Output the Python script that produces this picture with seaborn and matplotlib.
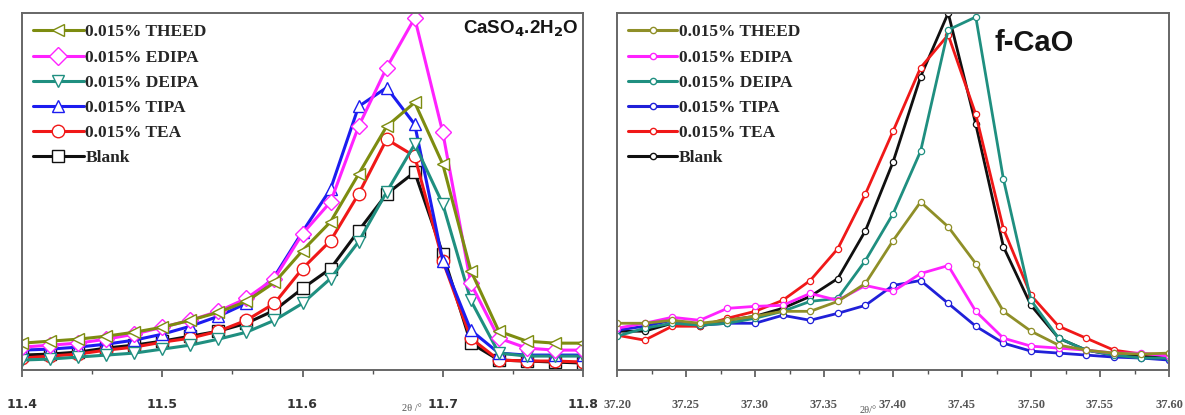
import numpy as np
import pandas as pd
import matplotlib
matplotlib.use("Agg")
import matplotlib.pyplot as plt
import seaborn as sns
from matplotlib.ticker import MultipleLocator

# ---------------- data ----------------
series_names = ["0.015% THEED", "0.015% EDIPA", "0.015% DEIPA", "0.015% TIPA", "0.015% TEA", "Blank"]

# CaSO4.2H2O panel (2theta / deg), intensity in arbitrary units
x_gyp = [11.40, 11.42, 11.44, 11.46, 11.48, 11.50, 11.52, 11.54, 11.56, 11.58, 11.60,
         11.62, 11.64, 11.66, 11.68, 11.70, 11.72, 11.74, 11.76, 11.78, 11.80]
gyp_theed = [27, 29, 31, 34, 38, 43, 50, 58, 69, 88, 120, 149, 197, 245, 269, 207, 100, 39, 29, 27, 27]
gyp_edipa = [23, 25, 27, 31, 36, 43, 50, 59, 72, 92, 137, 169, 245, 304, 354, 239, 87, 32, 22, 20, 20]
gyp_deipa = [10, 11, 13, 15, 17, 21, 25, 31, 38, 50, 67, 92, 129, 179, 227, 167, 70, 17, 14, 14, 14]
gyp_tipa = [20, 21, 23, 26, 30, 36, 44, 54, 67, 94, 139, 182, 265, 284, 247, 110, 40, 17, 15, 15, 15]
gyp_tea = [12, 14, 16, 20, 23, 28, 32, 39, 50, 67, 102, 130, 177, 232, 215, 110, 32, 10, 9, 9, 8]
gyp_blank = [15, 16, 18, 22, 25, 29, 34, 39, 47, 60, 82, 102, 140, 177, 199, 117, 27, 10, 9, 8, 7]

# f-CaO panel
x_cao = [37.20, 37.22, 37.24, 37.26, 37.28, 37.30, 37.32, 37.34, 37.36, 37.38, 37.40,
         37.42, 37.44, 37.46, 37.48, 37.50, 37.52, 37.54, 37.56, 37.58, 37.60]
cao_theed = [47, 47, 50, 47, 50, 54, 59, 59, 69, 87, 130, 169, 144, 107, 59, 39, 25, 20, 17, 16, 17]
cao_edipa = [42, 47, 53, 50, 62, 64, 65, 77, 70, 85, 79, 97, 105, 59, 32, 24, 22, 20, 17, 17, 14]
cao_deipa = [34, 42, 47, 45, 47, 52, 59, 69, 72, 110, 157, 220, 342, 355, 192, 70, 32, 20, 15, 12, 12]
cao_tipa = [40, 44, 50, 45, 47, 47, 55, 50, 57, 65, 85, 90, 67, 44, 27, 19, 17, 15, 13, 12, 10]
cao_tea = [35, 30, 44, 44, 52, 59, 70, 90, 122, 177, 240, 304, 337, 257, 142, 75, 44, 32, 20, 16, 16]
cao_blank = [39, 39, 47, 44, 50, 54, 62, 74, 92, 140, 209, 295, 359, 247, 124, 65, 32, 20, 15, 14, 12]

gyp_xticks = [11.4, 11.5, 11.6, 11.7, 11.8]
gyp_xticklabels = ["11.4", "11.5", "11.6", "11.7", "11.8"]
cao_xticks = [37.20, 37.25, 37.30, 37.35, 37.40, 37.45, 37.50, 37.55, 37.60]
cao_xticklabels = ["37.20", "37.25", "37.30", "37.35", "37.40", "37.45", "37.50", "37.55", "37.60"]

# ---------------- style ----------------
colors_gyp = ["#7d8c10", "#ff22ff", "#1f8f80", "#1c1cf0", "#f01818", "#101010"]
colors_cao = ["#8f8f28", "#ff22ff", "#1f8f80", "#2020d8", "#f01818", "#101010"]
markers_gyp = ["<", "D", "v", "^", "o", "s"]

sns.set_style("white")
plt.rcParams["font.family"] = ["DejaVu Sans"]

fig = plt.figure(figsize=(11.85, 4.15), dpi=100)
axL = fig.add_axes([22 / 1185, 45 / 415, 561 / 1185, 357 / 415])
axR = fig.add_axes([617 / 1185, 45 / 415, 552 / 1185, 357 / 415])

gyp_df = pd.DataFrame({"x": x_gyp, series_names[0]: gyp_theed, series_names[1]: gyp_edipa,
                       series_names[2]: gyp_deipa, series_names[3]: gyp_tipa,
                       series_names[4]: gyp_tea, series_names[5]: gyp_blank})
cao_df = pd.DataFrame({"x": x_cao, series_names[0]: cao_theed, series_names[1]: cao_edipa,
                       series_names[2]: cao_deipa, series_names[3]: cao_tipa,
                       series_names[4]: cao_tea, series_names[5]: cao_blank})

# draw Blank first so coloured curves sit on top (legend order kept separately)
order = [5, 4, 3, 2, 1, 0]
for i in order:
    name = series_names[i]
    sns.lineplot(data=gyp_df, x="x", y=name, ax=axL, color=colors_gyp[i], lw=2.2,
                 marker=markers_gyp[i], markersize=9 if markers_gyp[i] != "D" else 8,
                 markerfacecolor="white", markeredgecolor=colors_gyp[i],
                 markeredgewidth=1.0, label=name, sort=False, legend=False)
    sns.lineplot(data=cao_df, x="x", y=name, ax=axR, color=colors_cao[i], lw=2.0,
                 marker="o", markersize=4.5, markerfacecolor="white",
                 markeredgecolor=colors_cao[i], markeredgewidth=0.9,
                 label=name, sort=False, legend=False)

legend_font = {"family": ["Liberation Serif", "DejaVu Serif"], "weight": "bold", "size": 12.5}

for ax, cols, mk, ms, xt, xtl, xlim, hl in [
        (axL, colors_gyp, markers_gyp, 9, gyp_xticks, gyp_xticklabels, (11.4, 11.8), 2.9),
        (axR, colors_cao, ["o"] * 6, 4.5, cao_xticks, cao_xticklabels, (37.2, 37.6), 2.8)]:
    ax.set_xlim(*xlim)
    ax.set_ylim(0, 359)
    ax.set_yticks([])
    ax.set_ylabel("")
    ax.set_xticks(xt)
    ax.set_xticklabels(xtl)
    for s in ax.spines.values():
        s.set_color("#666666")
        s.set_linewidth(1.4)
    handles = [plt.Line2D([], [], color=cols[i], lw=2.2, marker=mk[i], markersize=ms,
                          markerfacecolor="white", markeredgecolor=cols[i], markeredgewidth=1.0)
               for i in range(6)]
    ax.legend(handles, series_names, loc="upper left", frameon=False, prop=legend_font,
              handlelength=hl, handletextpad=0.1, labelspacing=0.52,
              borderaxespad=0.25, bbox_to_anchor=(0.0, 1.0))

axL.xaxis.set_minor_locator(MultipleLocator(0.05))
axR.xaxis.set_minor_locator(MultipleLocator(0.025))
axL.tick_params(axis="x", which="major", direction="out", length=5, width=1.2, color="#555555",
                labelsize=9, labelcolor="#333333", pad=15, bottom=True)
axL.tick_params(axis="x", which="minor", direction="out", length=3, width=1.0, color="#555555", bottom=True)
for lab in axL.get_xticklabels():
    lab.set_fontweight("bold")
axR.tick_params(axis="x", which="major", direction="out", length=5, width=1.2, color="#555555",
                labelsize=9, labelcolor="#555555", pad=16, bottom=True)
axR.tick_params(axis="x", which="minor", direction="out", length=3, width=1.0, color="#555555", bottom=True)
for lab in axR.get_xticklabels():
    lab.set_fontfamily(["Liberation Serif", "DejaVu Serif"])
    lab.set_fontweight("bold")

axL.set_xlabel("2θ /°", fontsize=7.5, color="#555555", family=["Liberation Serif", "DejaVu Serif"])
axL.xaxis.set_label_coords(0.695, -0.096)
axR.set_xlabel("2θ/°", fontsize=7.5, color="#555555", family=["Liberation Serif", "DejaVu Serif"])
axR.xaxis.set_label_coords(0.455, -0.100)

axL.text(0.993, 0.985, "CaSO$_\\mathbf{4}$.2H$_\\mathbf{2}$O", transform=axL.transAxes,
         ha="right", va="top", fontsize=13.5, fontweight="bold", color="#151515",
         family=["Liberation Sans", "DejaVu Sans"])
axR.text(0.683, 0.955, "f-CaO", transform=axR.transAxes, ha="left", va="top",
         fontsize=21, fontweight="bold", color="#151515", family=["Liberation Sans", "DejaVu Sans"])

fig.savefig("out.png", dpi=100, facecolor="white")
